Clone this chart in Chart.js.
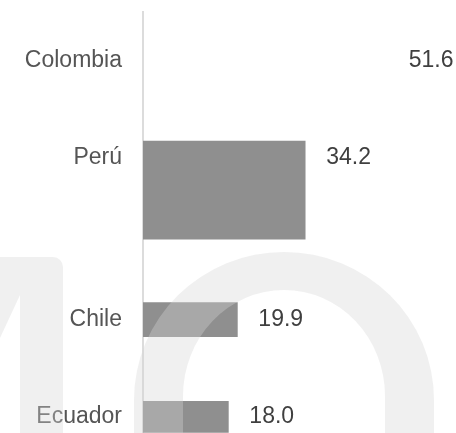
<!DOCTYPE html>
<html>
<head>
<meta charset="utf-8">
<script src="https://cdn.jsdelivr.net/npm/chart.js@4/dist/chart.umd.min.js"></script>
<style>
  body { margin: 0; background: #ffffff; }
  #wrap { width: 456px; height: 433px; }
</style>
</head>
<body>
<div id="wrap"><canvas id="barChart" width="456" height="433"></canvas></div>
<script>
const categories = ["Colombia", "Perú", "Chile", "Ecuador"];
const values = [51.6, 34.2, 19.9, 18.0];
const barColors = ["rgba(255,255,255,0)", "#8f8f8f", "#8f8f8f", "#8f8f8f"];

// layout of the rows on the category axis (slot index, bar thickness in px)
const slotCount = 13;
const labelSlot = [1, 4, 9, 12];
const barSlot = [1, 5, 9, 12];
const barSize = [30, 98, 34, 31];

const FONT = "'Liberation Sans', Arial, sans-serif";

const rowLabels = new Array(slotCount).fill("");
labelSlot.forEach((slot, i) => { rowLabels[slot] = categories[i]; });

const datasets = categories.map((name, i) => {
  const data = new Array(slotCount).fill(null);
  data[barSlot[i]] = values[i];
  return {
    label: name,
    data: data,
    backgroundColor: barColors[i],
    borderWidth: 0,
    barThickness: barSize[i],
    grouped: false,
  };
});

const valueLabels = {
  id: "valueLabels",
  afterDatasetsDraw(chart) {
    const { ctx, scales } = chart;
    ctx.save();
    ctx.font = "23px " + FONT;
    ctx.fillStyle = "#3f3f3f";
    ctx.textAlign = "left";
    ctx.textBaseline = "middle";
    values.forEach((v, i) => {
      const x = scales.x.getPixelForValue(v) + 21;
      const y = scales.y.getPixelForValue(labelSlot[i]);
      ctx.fillText(v.toFixed(1), x, y);
    });
    ctx.restore();
  },
};

// faint logo letters laid over the whole picture
const watermark = {
  id: "watermark",
  afterDraw(chart) {
    const ctx = chart.ctx;
    ctx.save();
    ctx.fillStyle = "rgba(213, 213, 213, 0.36)";

    ctx.beginPath();
    ctx.moveTo(0, 257);
    ctx.lineTo(53, 257);
    ctx.arcTo(63, 257, 63, 267, 10);
    ctx.lineTo(63, 440);
    ctx.lineTo(20, 440);
    ctx.lineTo(20, 295);
    ctx.lineTo(0, 338);
    ctx.closePath();
    ctx.fill();

    ctx.beginPath();
    ctx.ellipse(284, 400, 150, 148, 0, Math.PI, 2 * Math.PI);
    ctx.lineTo(434, 440);
    ctx.lineTo(134, 440);
    ctx.closePath();
    ctx.moveTo(183, 396);
    ctx.ellipse(284, 396, 101, 106, 0, Math.PI, 2 * Math.PI);
    ctx.lineTo(385, 440);
    ctx.lineTo(183, 440);
    ctx.closePath();
    ctx.fill("evenodd");
    ctx.restore();
  },
};

const ctx = document.getElementById("barChart").getContext("2d");
new Chart(ctx, {
  type: "bar",
  data: {
    labels: rowLabels,
    datasets: datasets,
  },
  options: {
    indexAxis: "y",
    responsive: false,
    animation: false,
    layout: { padding: { top: 12, right: 0, bottom: 0, left: 0 } },
    scales: {
      x: { display: false, min: 0, max: 66 },
      y: {
        grid: { display: false, drawTicks: false },
        border: { display: true, color: "#dcdcdc", width: 2 },
        ticks: {
          autoSkip: false,
          padding: 21,
          color: "#555555",
          font: { family: FONT, size: 23 },
        },
        afterFit: (scale) => {
          scale.width = 143;
          scale.paddingTop = 0;
          scale.paddingBottom = 0;
        },
      },
    },
    plugins: {
      legend: { display: false },
      tooltip: { enabled: false },
    },
  },
  plugins: [valueLabels, watermark],
});
</script>
</body>
</html>
